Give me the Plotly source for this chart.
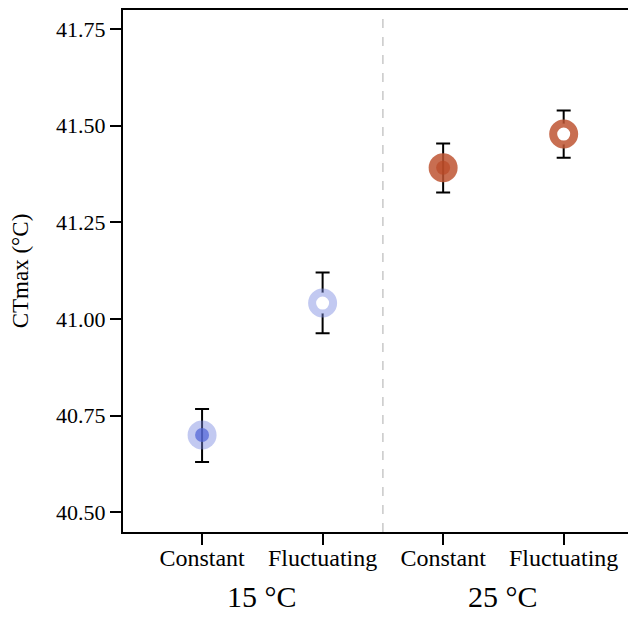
import plotly.graph_objects as go

# Data
categories = ["Constant", "Fluctuating", "Constant", "Fluctuating"]
groups = ["15 °C", "25 °C"]
x_pos = [1, 2, 3, 4]
means = [40.700, 41.041, 41.391, 41.478]
upper = [40.767, 41.120, 41.454, 41.539]
lower = [40.630, 40.963, 41.327, 41.417]
regimes = ["Constant", "Fluctuating", "Constant", "Fluctuating"]
temps = ["15", "15", "25", "25"]
y_ticks = [40.50, 40.75, 41.00, 41.25, 41.50, 41.75]

SERIF = "Liberation Serif, Times New Roman, serif"

halo_col = {"15": "rgba(120,135,225,0.45)", "25": "rgba(190,85,50,0.85)"}
dot_col = {"15": "rgba(80,100,215,0.72)", "25": "rgba(185,70,35,0.65)"}

fig = go.Figure()

# error bars
fig.add_trace(go.Scatter(
    x=x_pos, y=means, mode="markers",
    marker=dict(size=1, color="rgba(0,0,0,0)"),
    error_y=dict(type="data", symmetric=False,
                 array=[u - m for u, m in zip(upper, means)],
                 arrayminus=[m - l for m, l in zip(means, lower)],
                 color="black", thickness=2, width=7),
    showlegend=False, hoverinfo="skip"))

for xi, m, r, t in zip(x_pos, means, regimes, temps):
    if r == "Constant":
        fig.add_trace(go.Scatter(x=[xi], y=[m], mode="markers",
                                 marker=dict(size=29, color=halo_col[t], line=dict(width=0)),
                                 showlegend=False))
        fig.add_trace(go.Scatter(x=[xi], y=[m], mode="markers",
                                 marker=dict(size=14, color=dot_col[t], line=dict(width=0)),
                                 showlegend=False))
    else:
        fig.add_trace(go.Scatter(x=[xi], y=[m], mode="markers",
                                 marker=dict(size=21, color="white",
                                             line=dict(width=8, color=halo_col[t])),
                                 showlegend=False))

fig.add_shape(type="line", x0=2.5, x1=2.5, y0=0, y1=1, xref="x", yref="paper",
              line=dict(color="#c8c8c8", width=1.5, dash="dash"))

for gx, g in zip([1.5, 3.5], groups):
    fig.add_annotation(x=gx, y=-0.1245, xref="x", yref="paper", text=g,
                       showarrow=False, yanchor="middle",
                       font=dict(family=SERIF, size=30, color="black"))

fig.update_layout(
    width=628, height=609,
    margin=dict(l=115, r=0, t=2, b=85),
    plot_bgcolor="white", paper_bgcolor="white",
    font=dict(family=SERIF, color="black", size=22),
    xaxis=dict(range=[0.344, 4.60], tickvals=x_pos, ticktext=categories,
               showgrid=False, zeroline=False, showline=True, linecolor="black",
               linewidth=2, mirror=True, ticks="outside", ticklen=11, tickwidth=2,
               tickcolor="black", ticklabelstandoff=-8,
               tickfont=dict(family=SERIF, size=24, color="black")),
    yaxis=dict(range=[40.449, 41.799], tickvals=y_ticks,
               ticktext=[f"{v:.2f}" for v in y_ticks],
               showgrid=False, zeroline=False, showline=True, linecolor="black",
               linewidth=2, ticks="outside", ticklen=11, tickwidth=2,
               tickcolor="black", tickfont=dict(family=SERIF, size=22, color="black"),
               title=dict(text="CTmax (°C)", font=dict(family=SERIF, size=23, color="black"),
                          standoff=22)),
)

fig.write_html("out.html")
